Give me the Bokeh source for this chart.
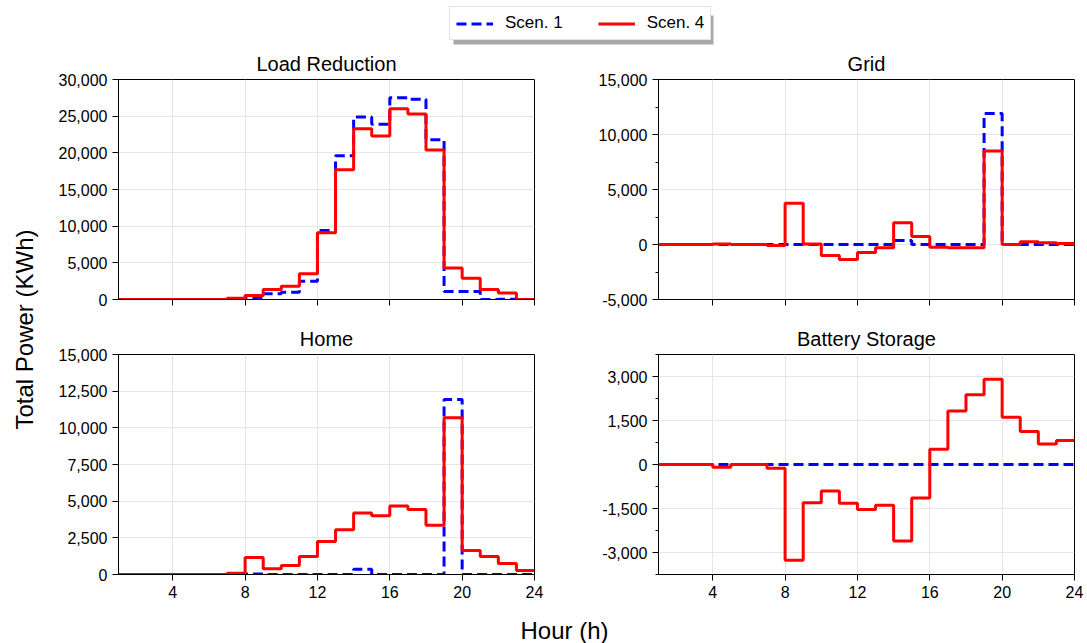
from bokeh.plotting import figure
from bokeh.layouts import column, row
from bokeh.models import Range1d, FixedTicker, NumeralTickFormatter, Label, Legend, LegendItem
from bokeh.embed import file_html
from bokeh.resources import INLINE

FONT = "Liberation Sans"

# ---------------- data ----------------
hours = list(range(1, 25))
x_ticks = [4, 8, 12, 16, 20, 24]

load_s1 = [0, 0, 0, 0, 0, 0, 0, 150, 800, 1000, 2500, 9400, 19600, 24900, 23900, 27500,
           27300, 21800, 1100, 1100, 0, 50, 0, 0]
load_s4 = [0, 0, 0, 0, 0, 0, 180, 550, 1350, 1800, 3500, 9100, 17700, 23300, 22300, 26000,
           25300, 20400, 4300, 2900, 1350, 900, 0, 0]

grid_s1 = [0, 0, 0, 0, 0, 0, 0, 0, 0, 0, 0, 0, 0, 360, 0, 0, 0, 0, 11900, 0, 0, 0, 0, 0]
grid_s4 = [0, 0, 0, 50, 0, 0, -100, 3750, 50, -1000, -1370, -730, -300, 1970, 730, -240,
           -300, -300, 8500, 0, 240, 150, 100, 100]

home_s1 = [0, 0, 0, 0, 0, 0, 0, 30, 0, 0, 0, 0, 0, 360, 0, 0, 0, 0, 11930, 0, 0, 0, 0, 0]
home_s4 = [0, 0, 0, 0, 0, 0, 90, 1160, 390, 610, 1230, 2250, 3050, 4190, 4000, 4670,
           4440, 3350, 10680, 1640, 1230, 750, 270, 270]

batt_s1 = [0] * 24
batt_s4 = [0, 0, 0, -90, 0, 0, -125, -3260, -1300, -900, -1320, -1530, -1390, -2610, -1140,
           520, 1820, 2380, 2910, 1610, 1125, 700, 820, 820]

load_ticks = [0, 5000, 10000, 15000, 20000, 25000, 30000]
grid_ticks = [-5000, 0, 5000, 10000, 15000]
grid_minor = [-2500, 2500, 7500, 12500]
home_ticks = [0, 2500, 5000, 7500, 10000, 12500, 15000]
batt_ticks = [-3000, -1500, 0, 1500, 3000]
batt_minor = [-3750, -2250, -750, 750, 2250, 3750]

series_names = ["Scen. 1", "Scen. 4"]
BLUE = "#0000ff"
RED = "#ff0000"
LW = 3
DASH = "10 5"


def panel(title, ymin, ymax, ticks, minor, s1, s4, width, ml, mr, height, mt, mb, xlabels):
    p = figure(width=width, height=height, x_range=Range1d(1, 24), y_range=Range1d(ymin, ymax),
               toolbar_location=None, output_backend="svg",
               min_border_left=ml, min_border_right=mr, min_border_top=mt, min_border_bottom=mb,
               title=title)
    p.step(hours, s1, mode="after", line_color=BLUE, line_width=LW, line_dash=DASH)
    p.step(hours, s4, mode="after", line_color=RED, line_width=LW)
    xt = FixedTicker(ticks=x_ticks)
    yt = FixedTicker(ticks=ticks, minor_ticks=minor)
    p.xaxis.ticker = xt
    p.xgrid.ticker = xt
    p.yaxis.ticker = yt
    p.ygrid.ticker = yt
    p.yaxis.formatter = NumeralTickFormatter(format="0,0")
    if not xlabels:
        p.xaxis.major_label_overrides = {t: "" for t in x_ticks}
    p.axis.axis_line_color = "black"
    p.axis.axis_line_width = 1
    p.axis.major_tick_line_color = "black"
    p.axis.major_tick_out = 6
    p.axis.major_tick_in = 0
    p.axis.minor_tick_line_color = "black"
    p.axis.minor_tick_out = 3
    p.axis.minor_tick_in = 0
    p.axis.major_label_standoff = 5
    p.axis.major_label_text_font = FONT
    p.axis.major_label_text_font_size = "16px"
    p.axis.major_label_text_color = "black"
    p.grid.grid_line_color = "#e6e6e6"
    p.grid.grid_line_width = 1
    p.outline_line_color = "black"
    p.outline_line_width = 1
    p.title.align = "center"
    p.title.text_font = FONT
    p.title.text_font_size = "20px"
    p.title.text_font_style = "normal"
    p.title.text_color = "black"
    p.title.standoff = 9
    p.background_fill_color = "white"
    p.border_fill_color = "white"
    return p


LEG_H = 46
LW_W, RW_W = 548, 499
TOP_H, BOT_H = 274, 286
XL_H = 37

p_load = panel("Load Reduction", 0, 30000, load_ticks, [], load_s1, load_s4,
               LW_W, 78, 54, TOP_H, 33, 21, False)
p_grid = panel("Grid", -5000, 15000, grid_ticks, grid_minor, grid_s1, grid_s4,
               RW_W, 70, 13, TOP_H, 33, 21, False)
p_home = panel("Home", 0, 15000, home_ticks, [], home_s1, home_s4,
               LW_W, 78, 54, BOT_H, 34, 32, True)
p_batt = panel("Battery Storage", -3750, 3750, batt_ticks, batt_minor, batt_s1, batt_s4,
               RW_W, 70, 13, BOT_H, 34, 32, True)

# ---------------- legend strip ----------------
lf = figure(width=1087, height=LEG_H, x_range=Range1d(0, 1087), y_range=Range1d(0, LEG_H),
            toolbar_location=None, output_backend="svg", min_border=0,
            x_axis_location=None, y_axis_location=None)
lf.grid.visible = False
lf.outline_line_color = None
# legend shadow (decoration)
lf.quad(left=[453], right=[713], bottom=[2], top=[31], fill_color="#a8a8a8", line_color=None)
# proxy renderers for the legend keys (placed outside the visible range)
r1 = lf.line(x=[-20, -10], y=[-20, -20], line_color=BLUE, line_width=LW, line_dash=DASH)
r2 = lf.line(x=[-20, -10], y=[-20, -20], line_color=RED, line_width=LW)
leg = Legend(items=[LegendItem(label=series_names[0], renderers=[r1]),
                    LegendItem(label=series_names[1], renderers=[r2])],
             orientation="horizontal", location=(449, 6),
             label_text_font=FONT, label_text_font_size="17px", label_text_color="black",
             glyph_width=37, glyph_height=17, label_standoff=12, spacing=35, padding=6,
             border_line_color="#c8c8c8", border_line_width=1,
             background_fill_color="white", background_fill_alpha=1.0)
lf.add_layout(leg)

# ---------------- axis label strips ----------------
YF_H = TOP_H + BOT_H
yf = figure(width=40, height=YF_H, x_range=Range1d(0, 40), y_range=Range1d(0, YF_H),
            toolbar_location=None, output_backend="svg", min_border=0,
            x_axis_location=None, y_axis_location=None)
yf.grid.visible = False
yf.outline_line_color = None
yf.add_layout(Label(x=24, y=YF_H - (329 - LEG_H), text="Total Power (KWh)", angle=90,
                    angle_units="deg", text_align="center", text_baseline="middle",
                    text_font=FONT, text_font_size="24px", text_color="black"))

xf = figure(width=1087, height=XL_H, x_range=Range1d(0, 1087), y_range=Range1d(0, XL_H),
            toolbar_location=None, output_backend="svg", min_border=0,
            x_axis_location=None, y_axis_location=None)
xf.grid.visible = False
xf.outline_line_color = None
xf.add_layout(Label(x=564, y=13, text="Hour (h)", text_align="center", text_baseline="middle",
                    text_font=FONT, text_font_size="24px", text_color="black"))

layout = column(lf,
                row(yf, column(row(p_load, p_grid), row(p_home, p_batt))),
                xf)

open("out.html", "w").write(file_html(layout, INLINE))
